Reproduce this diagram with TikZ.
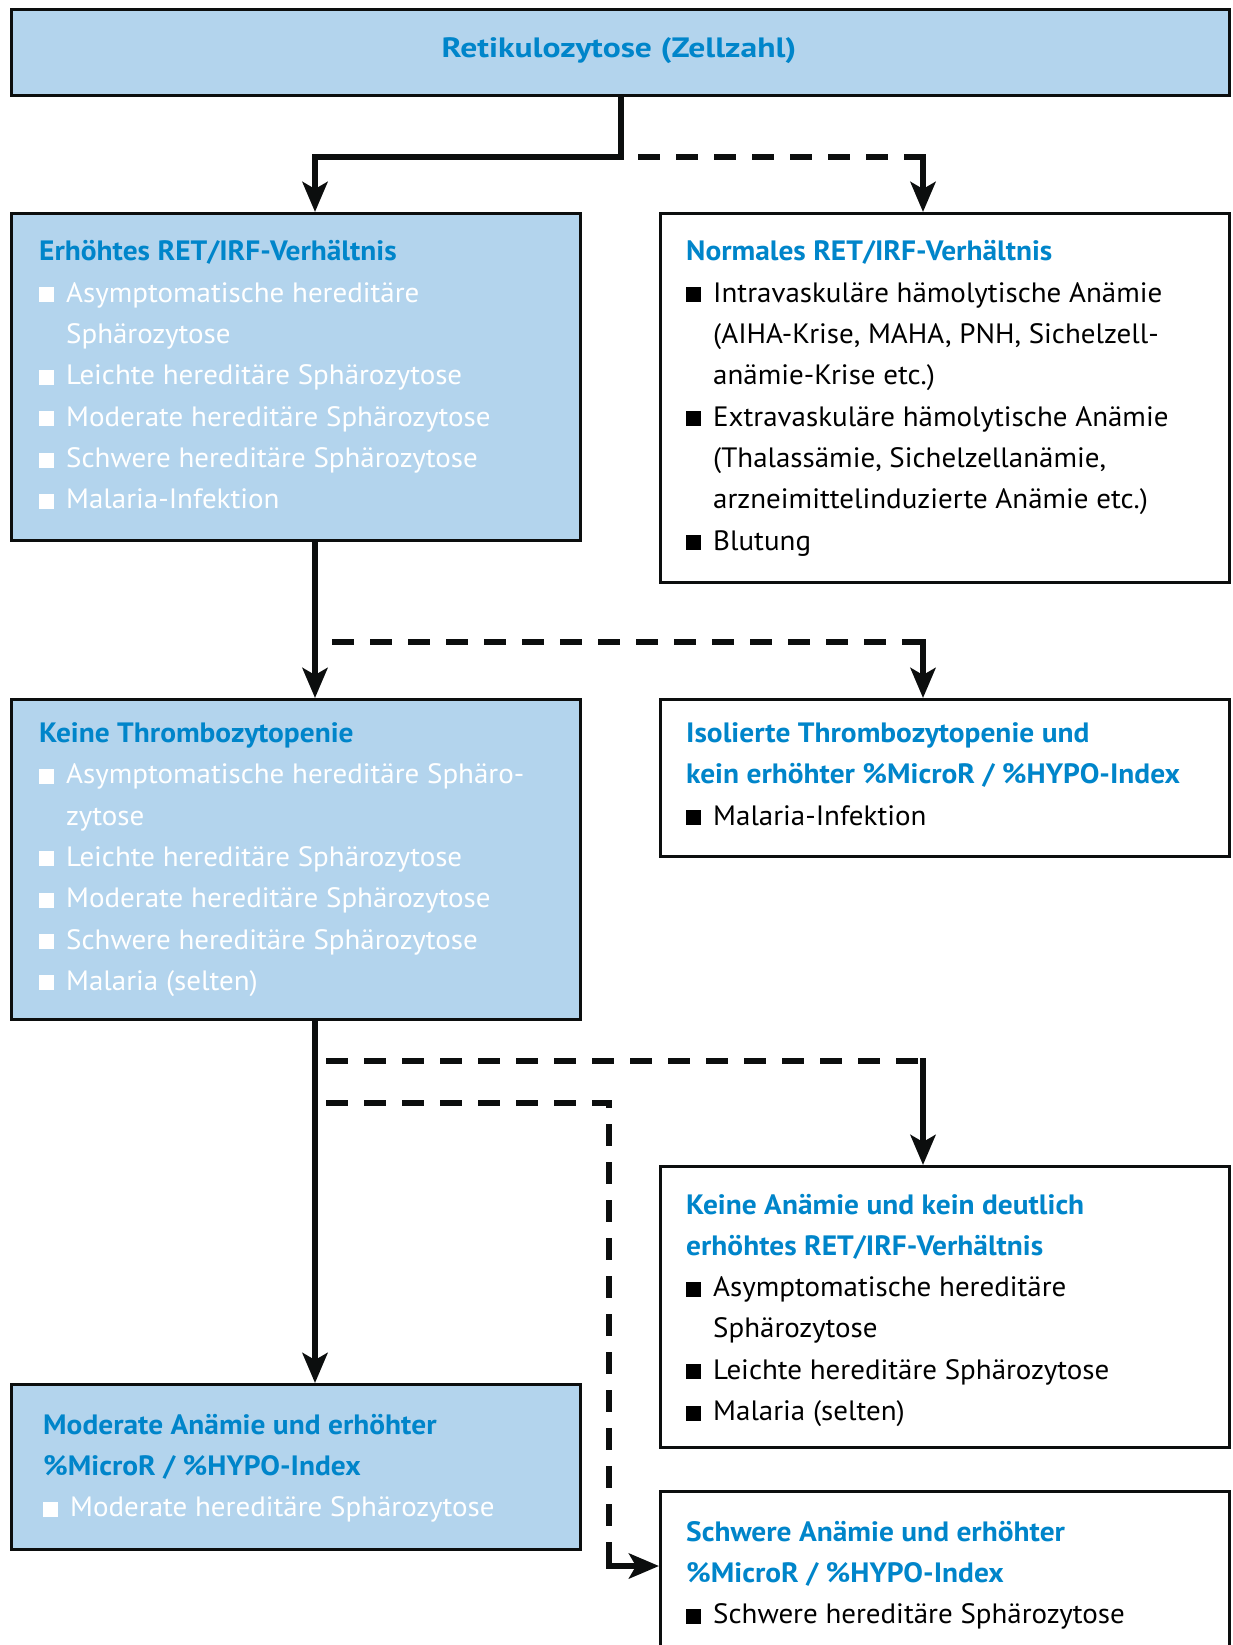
\documentclass[tikz,border=0pt]{standalone}
\usepackage{fontspec}
\setmainfont[FakeStretch=1.035]{PT Sans}
\newfontfamily\ttlfont[FakeStretch=1.05]{PT Sans}
\newfontfamily\bigttlfont[FakeStretch=1.2]{PT Sans}
\usetikzlibrary{arrows.meta}
\definecolor{fillblue}{RGB}{179,212,237}
\definecolor{titleblue}{RGB}{0,133,202}
\definecolor{ink}{RGB}{12,14,14}
\newcommand\bul{\makebox[27pt][l]{\rule{15pt}{15pt}}}
\newcommand\ind{\hspace*{27pt}}
\newcommand\myl[1]{\hbox{#1}}
\newcommand\ttl[1]{\hbox{\color{titleblue}\ttlfont\bfseries #1}}
\newcommand\stk[1]{\vtop{\baselineskip=41.3pt\lineskip=0pt\lineskiplimit=-100pt #1}}
\tikzset{
  box/.style={draw=ink, line width=3pt, rectangle, anchor=north west, inner sep=0pt},
  bluebox/.style={box, fill=fillblue},
  whitebox/.style={box, fill=white},
  conn/.style={draw=ink, line width=6pt},
  arr/.style={conn, line cap=rect, -{Stealth[length=30pt,width=25pt,inset=7pt]}},
  dconn/.style={conn, dash pattern=on 22pt off 16pt},
  txt/.style={anchor=base west, inner sep=0pt, font=\fontsize{28}{41.3}\selectfont},
}
\begin{document}
\begin{tikzpicture}[x=1pt,y=-1pt]
\useasboundingbox (0,0) rectangle (1232,1645);
% boxes
\node[bluebox, minimum width=1218pt, minimum height=86pt] (T) at (10,8) {};
\node[bluebox, minimum width=569pt, minimum height=327pt] (A) at (10,212) {};
\node[whitebox, minimum width=569pt, minimum height=369pt] (B) at (659,212) {};
\node[bluebox, minimum width=569pt, minimum height=320pt] (C) at (10,698) {};
\node[whitebox, minimum width=569pt, minimum height=157pt] (D) at (659,698) {};
\node[bluebox, minimum width=569pt, minimum height=165pt] (E) at (10,1383) {};
\node[whitebox, minimum width=569pt, minimum height=281pt] (F) at (659,1165) {};
\node[whitebox, minimum width=569pt, minimum height=220pt] (G) at (659,1490) {};
% texts
\node[txt, anchor=base, text=titleblue, font=\fontsize{28}{41.3}\selectfont\bigttlfont\bfseries] (Tt) at (619,58) {Retikulozytose (Zellzahl)};
\node[txt, text=white] (At) at (39,261) {\stk{%
  \ttl{Erhöhtes RET/IRF-Verhältnis}
  \myl{\bul Asymptomatische hereditäre}
  \myl{\ind Sphärozytose}
  \myl{\bul Leichte hereditäre Sphärozytose}
  \myl{\bul Moderate hereditäre Sphärozytose}
  \myl{\bul Schwere hereditäre Sphärozytose}
  \myl{\bul Malaria-Infektion}}};
\node[txt, text=black] (Bt) at (686,261) {\stk{%
  \ttl{Normales RET/IRF-Verhältnis}
  \myl{\bul Intravaskuläre hämolytische Anämie}
  \myl{\ind (AIHA-Krise, MAHA, PNH, Sichelzell-}
  \myl{\ind anämie-Krise etc.)}
  \myl{\bul Extravaskuläre hämolytische Anämie}
  \myl{\ind (Thalassämie, Sichelzellanämie,}
  \myl{\ind arzneimittelinduzierte Anämie etc.)}
  \myl{\bul Blutung}}};
\node[txt, text=white] (Ct) at (39,742.5) {\stk{%
  \ttl{Keine Thrombozytopenie}
  \myl{\bul Asymptomatische hereditäre Sphäro-}
  \myl{\ind zytose}
  \myl{\bul Leichte hereditäre Sphärozytose}
  \myl{\bul Moderate hereditäre Sphärozytose}
  \myl{\bul Schwere hereditäre Sphärozytose}
  \myl{\bul Malaria (selten)}}};
\node[txt, text=black] (Dt) at (686,742.5) {\stk{%
  \ttl{Isolierte Thrombozytopenie und}
  \ttl{kein erhöhter \%MicroR / \%HYPO-Index}
  \myl{\bul Malaria-Infektion}}};
\node[txt, text=white] (Et) at (43,1434) {\stk{%
  \ttl{Moderate Anämie und erhöhter}
  \ttl{\%MicroR / \%HYPO-Index}
  \myl{\bul Moderate hereditäre Sphärozytose}}};
\node[txt, text=black] (Ft) at (686,1214) {\stk{%
  \ttl{Keine Anämie und kein deutlich}
  \ttl{erhöhtes RET/IRF-Verhältnis}
  \myl{\bul Asymptomatische hereditäre}
  \myl{\ind Sphärozytose}
  \myl{\bul Leichte hereditäre Sphärozytose}
  \myl{\bul Malaria (selten)}}};
\node[txt, text=black] (Gt) at (686,1541) {\stk{%
  \ttl{Schwere Anämie und erhöhter}
  \ttl{\%MicroR / \%HYPO-Index}
  \myl{\bul Schwere hereditäre Sphärozytose}}};
% connector coordinates
\coordinate (jL) at (315,157);
\coordinate (jR) at (923,157);
\coordinate (dR0) at (638,157);
\coordinate (k0) at (332,642);
\coordinate (k1) at (923,642);
\coordinate (m0) at (326,1061);
\coordinate (m1) at (923,1061);
\coordinate (n0) at (326,1103);
\coordinate (n1) at (609,1545);
\coordinate (n2) at (609,1566);
% connectors
\draw[arr] (T.south) |- (jL) -- (jL |- A.north);
\draw[dconn] (dR0) -- (jR);
\draw[arr] (jR) -- (jR |- B.north);
\draw[arr] (A.south -| jL) -- (C.north -| jL);
\draw[dconn] (k0) -- (k1);
\draw[arr] (k1) -- (k1 |- D.north);
\draw[arr] (C.south -| jL) -- (E.north -| jL);
\draw[dconn] (m0) -- (m1);
\draw[arr] (m1) -- (m1 |- F.north);
\draw[dconn] (n0) -| (n1);
\draw[arr] (n1) -- (n2) -- (n2 -| G.west);
\end{tikzpicture}
\end{document}
